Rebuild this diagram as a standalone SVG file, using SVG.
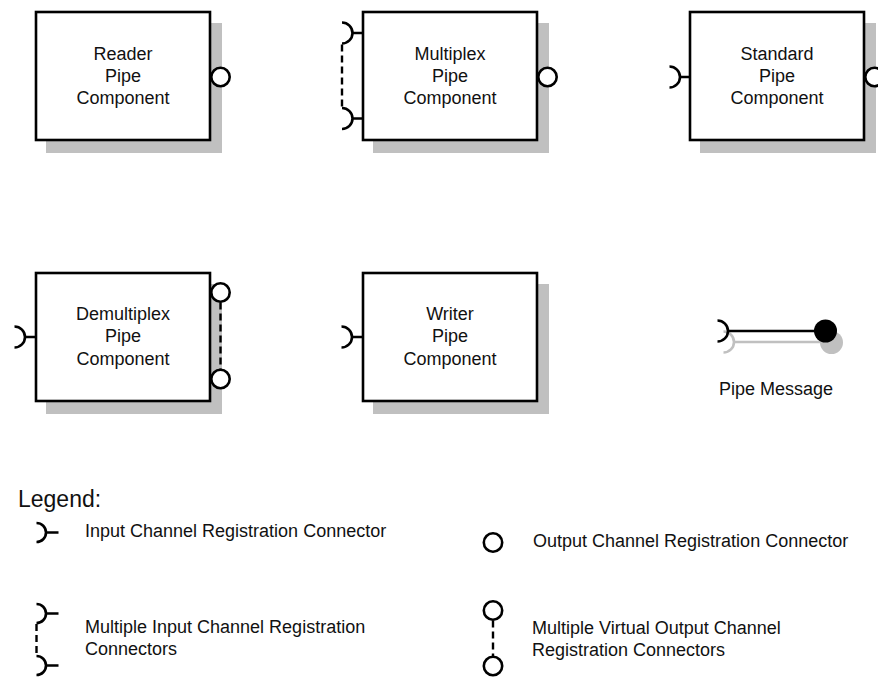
<svg xmlns="http://www.w3.org/2000/svg" width="878" height="677" viewBox="0 0 878 677">
  <style>
    .shadow { fill: #c0c0c0; stroke: none; }
    .box { fill: #ffffff; stroke: #000000; stroke-width: 2.6; }
    .port { fill: none; stroke: #000000; stroke-width: 2.6; }
    .out { fill: #ffffff; stroke: #000000; stroke-width: 2.6; }
    .dash { fill: none; stroke: #000000; stroke-width: 2.4; stroke-dasharray: 7 4; }
    .label { font-family: "Liberation Sans", Arial, sans-serif; font-size: 18px; fill: #111111; text-anchor: middle; }
    .legend { font-family: "Liberation Sans", Arial, sans-serif; font-size: 18px; fill: #111111; }
    .gray { fill: none; stroke: #c0c0c0; stroke-width: 2.6; }
  </style>
  <rect width="878" height="677" fill="#ffffff"/>

  <!-- Row 1 -->
  <g id="reader">
    <rect class="shadow" x="46" y="23" width="176" height="130"/>
    <rect class="box" x="36" y="12" width="174" height="128"/>
    <text class="label" x="123" y="59.5">Reader</text>
    <text class="label" x="123" y="81.5">Pipe</text>
    <text class="label" x="123" y="103.5">Component</text>
    <circle class="out" cx="220.5" cy="77" r="9.2"/>
  </g>

  <g id="multiplex">
    <rect class="shadow" x="373" y="23" width="176" height="130"/>
    <rect class="box" x="363" y="12" width="174" height="128"/>
    <text class="label" x="450" y="59.5">Multiplex</text>
    <text class="label" x="450" y="81.5">Pipe</text>
    <text class="label" x="450" y="103.5">Component</text>
    <path class="port" d="M342 22.5 A10.5 10.5 0 0 1 342 43.5 M352.5 33 H363"/>
    <path class="port" d="M342 108 A10.5 10.5 0 0 1 342 129 M352.5 118.5 H363"/>
    <circle class="out" cx="547.5" cy="77" r="9.2"/>
  </g>

  <g id="standard">
    <rect class="shadow" x="700" y="23" width="176" height="130"/>
    <rect class="box" x="690" y="12" width="174" height="128"/>
    <text class="label" x="777" y="59.5">Standard</text>
    <text class="label" x="777" y="81.5">Pipe</text>
    <text class="label" x="777" y="103.5">Component</text>
    <path class="port" d="M669.5 66.5 A10.5 10.5 0 0 1 669.5 87.5 M680 77 H690"/>
    <circle class="out" cx="874.5" cy="77" r="9.2"/>
  </g>

  <!-- Row 2 -->
  <g id="demultiplex">
    <rect class="shadow" x="46" y="284" width="176" height="130"/>
    <rect class="box" x="36" y="273" width="174" height="128"/>
    <text class="label" x="123" y="319.5">Demultiplex</text>
    <text class="label" x="123" y="342">Pipe</text>
    <text class="label" x="123" y="364.5">Component</text>
    <path class="port" d="M14.5 326.5 A10.5 10.5 0 0 1 14.5 347.5 M25 337 H36"/>
    <circle class="out" cx="220.5" cy="292.5" r="9.2"/>
    <circle class="out" cx="220.5" cy="379" r="9.2"/>
  </g>

  <g id="writer">
    <rect class="shadow" x="373" y="284" width="176" height="130"/>
    <rect class="box" x="363" y="273" width="174" height="128"/>
    <text class="label" x="450" y="319.5">Writer</text>
    <text class="label" x="450" y="342">Pipe</text>
    <text class="label" x="450" y="364.5">Component</text>
    <path class="port" d="M341.5 326.5 A10.5 10.5 0 0 1 341.5 347.5 M352 337 H363"/>
  </g>

  <g id="pipe-message">
    <!-- drop shadow -->
    <path class="gray" d="M723.5 331.5 A10.5 10.5 0 0 1 723.5 352.5 M734 342 H826"/>
    <circle cx="831.5" cy="342.5" r="11.5" fill="#c0c0c0"/>
    <!-- message -->
    <path class="port" d="M717.5 320.5 A10.5 10.5 0 0 1 717.5 341.5 M728 331 H820"/>
    <circle cx="825.5" cy="331" r="11.5" fill="#000000"/>
    <text class="label" x="776" y="395">Pipe Message</text>
  </g>

  <!-- Dashed links between grouped registration connectors -->
  <g id="connectors">
    <line class="dash" x1="342" y1="44.5" x2="342" y2="107"/>
    <line class="dash" x1="220.5" y1="302.5" x2="220.5" y2="369"/>
    <line class="dash" x1="36.5" y1="624" x2="36.5" y2="656"/>
    <line class="dash" x1="493" y1="620.5" x2="493" y2="656"/>
  </g>

  <!-- Legend -->
  <g id="legend">
    <text class="legend" x="18" y="507" style="font-size:23px">Legend:</text>

    <path class="port" d="M36.5 523 A9.5 9.5 0 0 1 36.5 542 M46 532.5 H58.5"/>
    <text class="legend" x="85" y="536.5">Input Channel Registration Connector</text>

    <circle class="out" cx="493" cy="542.5" r="9.2"/>
    <text class="legend" x="533" y="546.5">Output Channel Registration Connector</text>

    <path class="port" d="M36.5 604 A9.5 9.5 0 0 1 36.5 623 M46 613.5 H58.5"/>
    <path class="port" d="M36.5 656 A9.5 9.5 0 0 1 36.5 675 M46 665.5 H58.5"/>
    <text class="legend" x="85" y="632.5">Multiple Input Channel Registration</text>
    <text class="legend" x="85" y="654.5">Connectors</text>

    <circle class="out" cx="493" cy="610.5" r="9.2"/>
    <circle class="out" cx="493" cy="666" r="9.2"/>
    <text class="legend" x="532" y="634">Multiple Virtual Output Channel</text>
    <text class="legend" x="532" y="656">Registration Connectors</text>
  </g>
</svg>
